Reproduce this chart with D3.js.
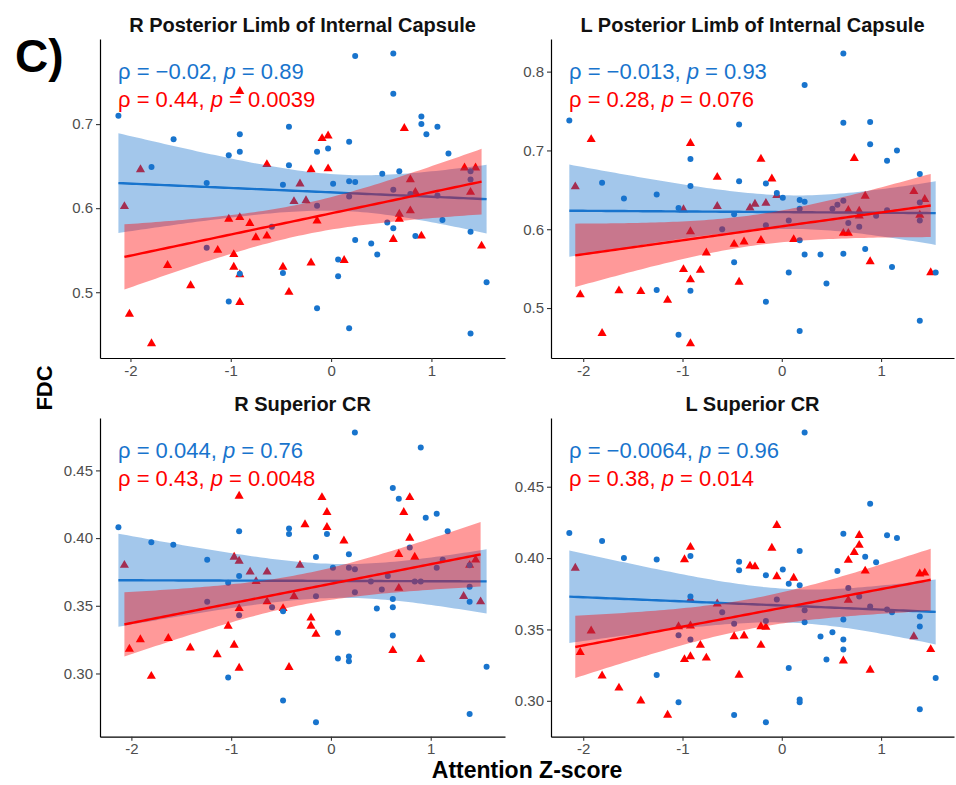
<!DOCTYPE html>
<html>
<head>
<meta charset="utf-8">
<script src="https://cdn.jsdelivr.net/npm/d3@7"></script>
<style>
  body { margin: 0; background: #fff; }
  svg { font-family: "Liberation Sans", Arial, sans-serif; }
</style>
</head>
<body>
<svg id="chart" width="956" height="785"></svg>
<script>
// panel titles and stats text
const titles = ["R Posterior Limb of Internal Capsule", "L Posterior Limb of Internal Capsule", "R Superior CR", "L Superior CR"];
const blueRho = ["\u22120.02", "\u22120.013", "0.044", "\u22120.0064"];
const blueP = ["0.89", "0.93", "0.76", "0.96"];
const redRho = ["0.44", "0.28", "0.43", "0.38"];
const redP = ["0.0039", "0.076", "0.0048", "0.014"];
const xTicks = [-2, -1, 0, 1];
const yTicksTop = [0.5, 0.6, 0.7];
const yTicksTopR = [0.5, 0.6, 0.7, 0.8];
const yTicksBottom = [0.30, 0.35, 0.40, 0.45];

// [attention z-score, FDC]
const rplicBlue = [[-2.12,0.710],[-1.57,0.682],[-1.79,0.649],[-0.91,0.688],[-1.02,0.663],[-0.91,0.667],[-0.42,0.697],[-0.42,0.651],[-1.24,0.630],[-0.48,0.628],[-1.24,0.553],[-0.59,0.578],[-0.91,0.522],[-0.48,0.523],[-1.02,0.489],
  [0.24,0.781],[0.62,0.784],[0.62,0.736],[0.90,0.709],[0.90,0.700],[1.06,0.697],[0.95,0.688],[0.18,0.679],[-0.14,0.667],[-0.03,0.671],[1.17,0.665],[0.02,0.629],[0.18,0.632],[0.24,0.631],[0.51,0.641],[0.68,0.644],[1.39,0.644],[1.39,0.634],[0.62,0.622],[0.79,0.617],[0.18,0.614],[-0.14,0.603],[1.06,0.615],[0.56,0.583],[1.11,0.586],[0.62,0.576],[1.39,0.572],[0.24,0.562],[0.40,0.558],[0.84,0.567],[0.46,0.545],[0.07,0.539],[0.07,0.519],[-0.14,0.481],[0.18,0.457],[1.39,0.451],[1.55,0.512]];
const rplicRed = [[-0.91,0.739],[-1.90,0.646],[-0.64,0.652],[-2.06,0.602],[-1.02,0.587],[-0.91,0.589],[-0.81,0.582],[-0.75,0.565],[-0.64,0.567],[-1.13,0.550],[-0.97,0.545],[-0.97,0.530],[-1.63,0.532],[-0.91,0.521],[-0.48,0.530],[-1.40,0.508],[-0.42,0.500],[-0.91,0.488],[-2.01,0.474],[-1.79,0.439],[-0.37,0.608],
  [0.73,0.695],[-0.09,0.683],[-0.03,0.686],[-0.20,0.646],[-0.03,0.647],[-0.31,0.629],[-0.25,0.609],[-0.14,0.585],[0.79,0.634],[0.84,0.619],[0.79,0.597],[0.68,0.593],[0.68,0.587],[1.33,0.648],[1.44,0.648],[1.39,0.619],[0.62,0.563],[0.90,0.567],[-0.20,0.535],[0.13,0.538],[1.50,0.555]];

const lplicBlue = [[-2.14,0.738],[-1.81,0.659],[-1.59,0.639],[-1.26,0.644],[-0.92,0.689],[-0.92,0.655],[-1.04,0.627],[-0.43,0.733],[-0.43,0.661],[-0.48,0.619],[-0.60,0.600],[-0.48,0.558],[-1.26,0.523],[-0.92,0.522],[-1.04,0.466],
  [0.62,0.823],[0.23,0.783],[0.62,0.735],[0.89,0.736],[0.89,0.708],[1.16,0.700],[1.06,0.687],[-0.16,0.658],[-0.05,0.646],[0.01,0.640],[0.18,0.637],[0.23,0.635],[1.39,0.670],[1.39,0.634],[0.51,0.626],[0.56,0.631],[0.62,0.636],[0.18,0.626],[1.06,0.624],[0.95,0.617],[0.07,0.611],[-0.16,0.605],[0.67,0.608],[0.78,0.603],[1.39,0.611],[0.18,0.586],[0.23,0.568],[0.39,0.568],[0.62,0.569],[0.84,0.575],[1.11,0.552],[0.07,0.545],[0.45,0.531],[1.55,0.545],[-0.16,0.508],[0.18,0.471],[1.39,0.484]];
const lplicRed = [[-1.92,0.714],[-0.92,0.709],[-2.08,0.654],[-0.65,0.666],[-0.65,0.629],[-0.99,0.625],[-0.92,0.597],[-0.48,0.581],[-0.76,0.570],[-0.99,0.549],[-0.82,0.548],[-0.92,0.536],[-0.43,0.533],[-2.03,0.517],[-1.64,0.522],[-1.42,0.521],[-1.15,0.510],[-1.81,0.468],[-0.92,0.455],
  [-0.21,0.689],[-0.10,0.664],[-0.05,0.643],[0.73,0.690],[0.84,0.642],[1.33,0.648],[1.44,0.638],[-0.32,0.627],[-0.27,0.632],[-0.16,0.633],[0.67,0.624],[0.78,0.623],[0.78,0.617],[1.39,0.618],[-0.38,0.584],[-0.21,0.586],[0.12,0.587],[0.62,0.595],[0.67,0.595],[0.89,0.559],[1.50,0.545]];

const rscrBlue = [[-2.13,0.408],[-1.80,0.397],[-1.58,0.395],[-0.92,0.405],[-0.42,0.407],[-0.42,0.403],[-1.24,0.384],[-0.92,0.372],[-1.03,0.367],[-1.24,0.353],[-0.59,0.349],[-0.92,0.343],[-0.48,0.346],[-1.03,0.297],[-0.48,0.280],
  [0.24,0.478],[0.90,0.467],[0.62,0.437],[0.68,0.429],[0.95,0.415],[1.06,0.418],[1.17,0.405],[-0.04,0.403],[-0.15,0.386],[0.18,0.388],[0.79,0.393],[0.02,0.378],[0.18,0.378],[0.24,0.377],[1.06,0.378],[1.12,0.384],[1.39,0.380],[0.40,0.368],[0.57,0.372],[0.84,0.368],[0.90,0.368],[0.51,0.362],[0.24,0.360],[-0.15,0.357],[1.39,0.364],[0.62,0.355],[0.62,0.349],[0.46,0.348],[1.39,0.353],[0.07,0.330],[0.62,0.328],[0.07,0.311],[0.18,0.3125],[0.18,0.309],[1.56,0.305],[1.39,0.270],[-0.15,0.264]];
const rscrRed = [[-0.92,0.431],[-0.97,0.386],[-0.92,0.383],[-0.81,0.375],[-0.64,0.375],[-0.75,0.368],[-2.07,0.380],[-0.64,0.353],[-0.92,0.348],[-0.48,0.348],[-0.37,0.357],[-1.03,0.335],[-1.91,0.325],[-1.63,0.326],[-2.02,0.318],[-0.97,0.321],[-1.41,0.319],[-1.14,0.314],[-0.92,0.304],[-0.42,0.3045],[-1.80,0.298],
  [-0.09,0.430],[-0.04,0.419],[-0.04,0.408],[-0.26,0.410],[0.79,0.430],[0.73,0.419],[0.13,0.398],[0.79,0.400],[0.68,0.388],[0.84,0.386],[-0.31,0.380],[1.39,0.380],[1.45,0.384],[0.68,0.363],[1.33,0.357],[1.50,0.353],[-0.20,0.341],[-0.20,0.335],[-0.15,0.329],[0.62,0.317],[0.90,0.3105]];

const lscrBlue = [[-2.14,0.4176],[-1.81,0.412],[-1.59,0.400],[-1.26,0.399],[-0.92,0.4015],[-0.43,0.3975],[-0.43,0.3915],[-0.92,0.373],[-0.60,0.362],[-0.48,0.354],[-1.04,0.346],[-0.92,0.343],[-1.26,0.318],[-1.04,0.299],[-0.48,0.290],
  [0.23,0.488],[0.89,0.438],[0.62,0.417],[1.06,0.416],[1.16,0.414],[0.18,0.405],[0.84,0.401],[0.95,0.397],[0.56,0.391],[-0.16,0.388],[0.01,0.392],[0.07,0.382],[0.18,0.381],[0.67,0.379],[0.78,0.373],[-0.05,0.371],[0.89,0.366],[1.06,0.364],[1.11,0.362],[0.23,0.3635],[-0.16,0.356],[0.23,0.355],[0.62,0.357],[1.39,0.359],[1.39,0.352],[0.39,0.345],[0.51,0.348],[0.62,0.343],[0.62,0.336],[0.07,0.323],[0.45,0.329],[1.55,0.316],[0.18,0.301],[0.18,0.299],[-0.16,0.285],[1.39,0.294]];
const lscrRed = [[-2.08,0.393],[-0.92,0.4076],[-0.98,0.399],[-0.65,0.368],[-0.92,0.371],[-1.04,0.352],[-0.92,0.3525],[-0.48,0.345],[-1.92,0.349],[-2.03,0.334],[-0.82,0.339],[-0.92,0.331],[-0.98,0.329],[-0.76,0.330],[-0.43,0.318],[-1.81,0.3175],[-1.64,0.309],[-1.42,0.300],[-1.15,0.290],
  [-0.05,0.423],[-0.10,0.407],[-0.32,0.3945],[-0.27,0.394],[-0.05,0.387],[0.12,0.386],[0.78,0.416],[0.78,0.409],[0.73,0.404],[0.67,0.3985],[0.84,0.391],[1.39,0.389],[1.44,0.3896],[0.67,0.3705],[-0.21,0.352],[-0.16,0.3516],[-0.38,0.3455],[-0.21,0.339],[1.33,0.345],[1.50,0.336],[0.62,0.328],[0.89,0.3215]];

const panels = [
  { blue: rplicBlue, red: rplicRed, yTicks: yTicksTop, fmt: ".1f" },
  { blue: lplicBlue, red: lplicRed, yTicks: yTicksTopR, fmt: ".1f" },
  { blue: rscrBlue, red: rscrRed, yTicks: yTicksBottom, fmt: ".2f" },
  { blue: lscrBlue, red: lscrRed, yTicks: yTicksBottom, fmt: ".2f" }
];

const BLUE = "#1874CD", RED = "#FF0000";
const cols = [[100, 505], [551, 954]];
const rows = [[39, 358], [418, 736.7]];
const svg = d3.select("#chart");

// ggplot-style 5% padding
function expand(ext) {
  const d = (ext[1] - ext[0]) * 0.05;
  return [ext[0] - d, ext[1] + d];
}

// lm fit with 95% confidence band, like geom_smooth(method = "lm")
function fit(pts) {
  const n = pts.length;
  const mx = d3.mean(pts, d => d[0]), my = d3.mean(pts, d => d[1]);
  const sxx = d3.sum(pts, d => (d[0] - mx) ** 2);
  const sxy = d3.sum(pts, d => (d[0] - mx) * (d[1] - my));
  const b = sxy / sxx, a = my - b * mx;
  const df = n - 2;
  const s = Math.sqrt(d3.sum(pts, d => (d[1] - a - b * d[0]) ** 2) / df);
  const z = 1.959964;
  const t = z + (z ** 3 + z) / (4 * df) + (5 * z ** 5 + 16 * z ** 3 + 3 * z) / (96 * df * df);
  const [lo, hi] = d3.extent(pts, d => d[0]);
  return d3.range(81).map(i => {
    const x = lo + (hi - lo) * i / 80;
    const yh = a + b * x;
    const se = s * Math.sqrt(1 / n + (x - mx) ** 2 / sxx);
    return { x, y: yh, lo: yh - t * se, hi: yh + t * se };
  });
}

panels.forEach((p, i) => {
  const [x0, x1] = cols[i % 2];
  const [y0, y1] = rows[Math.floor(i / 2)];
  const all = p.blue.concat(p.red);
  const x = d3.scaleLinear().domain(expand(d3.extent(all, d => d[0]))).range([x0, x1]);
  const y = d3.scaleLinear().domain(expand(d3.extent(all, d => d[1]))).range([y1, y0]);
  const g = svg.append("g");

  g.selectAll("path.tri").data(p.red).join("path")
    .attr("class", "tri")
    .attr("d", d3.symbol(d3.symbolTriangle, 36))
    .attr("transform", d => `translate(${x(d[0])},${y(d[1])})`)
    .attr("fill", RED);
  g.selectAll("circle").data(p.blue).join("circle")
    .attr("cx", d => x(d[0])).attr("cy", d => y(d[1])).attr("r", 3)
    .attr("fill", BLUE);

  [[p.blue, BLUE], [p.red, RED]].forEach(([pts, c]) => {
    const f = fit(pts);
    g.append("path").datum(f)
      .attr("d", d3.area().x(d => x(d.x)).y0(d => y(d.lo)).y1(d => y(d.hi)))
      .attr("fill", c).attr("fill-opacity", 0.4);
    g.append("path").datum(f)
      .attr("d", d3.line().x(d => x(d.x)).y(d => y(d.y)))
      .attr("fill", "none").attr("stroke", c).attr("stroke-width", 2.4);
  });

  const xa = g.append("g").attr("transform", `translate(0,${y1})`)
    .call(d3.axisBottom(x).tickValues(xTicks).tickFormat(d => String(d)).tickSize(4).tickSizeOuter(0).tickPadding(3));
  const ya = g.append("g").attr("transform", `translate(${x0},0)`)
    .call(d3.axisLeft(y).tickValues(p.yTicks).tickFormat(d3.format(p.fmt)).tickSize(4).tickSizeOuter(0).tickPadding(3));
  [xa, ya].forEach(a => {
    a.select(".domain").attr("stroke", "#000").attr("stroke-width", 1.2);
    a.selectAll(".tick line").attr("stroke", "#333").attr("stroke-width", 1.1);
    a.selectAll(".tick text").attr("fill", "#4D4D4D").attr("font-size", 15)
      .attr("font-family", "'Liberation Sans', Arial, sans-serif");
  });

  g.append("text").attr("x", (x0 + x1) / 2).attr("y", y0 - 7.5)
    .attr("text-anchor", "middle").attr("font-weight", "bold").attr("font-size", 20)
    .attr("fill", "#111").text(titles[i]);

  [[blueRho[i], blueP[i], BLUE, 39.5], [redRho[i], redP[i], RED, 68]].forEach(([r, pv, c, dy]) => {
    const t = g.append("text").attr("x", x0 + 18).attr("y", y0 + dy)
      .attr("fill", c).attr("font-size", 22);
    t.append("tspan").text(`\u03c1 = ${r}, `);
    t.append("tspan").attr("font-style", "italic").text("p");
    t.append("tspan").text(` = ${pv}`);
  });
});

svg.append("text").attr("x", 15).attr("y", 72)
  .attr("font-weight", "bold").attr("font-size", 46).attr("fill", "#000").text("C)");
svg.append("text").attr("transform", "translate(52,388) rotate(-90)")
  .attr("text-anchor", "middle").attr("font-weight", "bold").attr("font-size", 22)
  .attr("fill", "#000").text("FDC");
svg.append("text").attr("x", 527).attr("y", 778)
  .attr("text-anchor", "middle").attr("font-weight", "bold").attr("font-size", 23)
  .attr("fill", "#000").text("Attention Z-score");
</script>
</body>
</html>
